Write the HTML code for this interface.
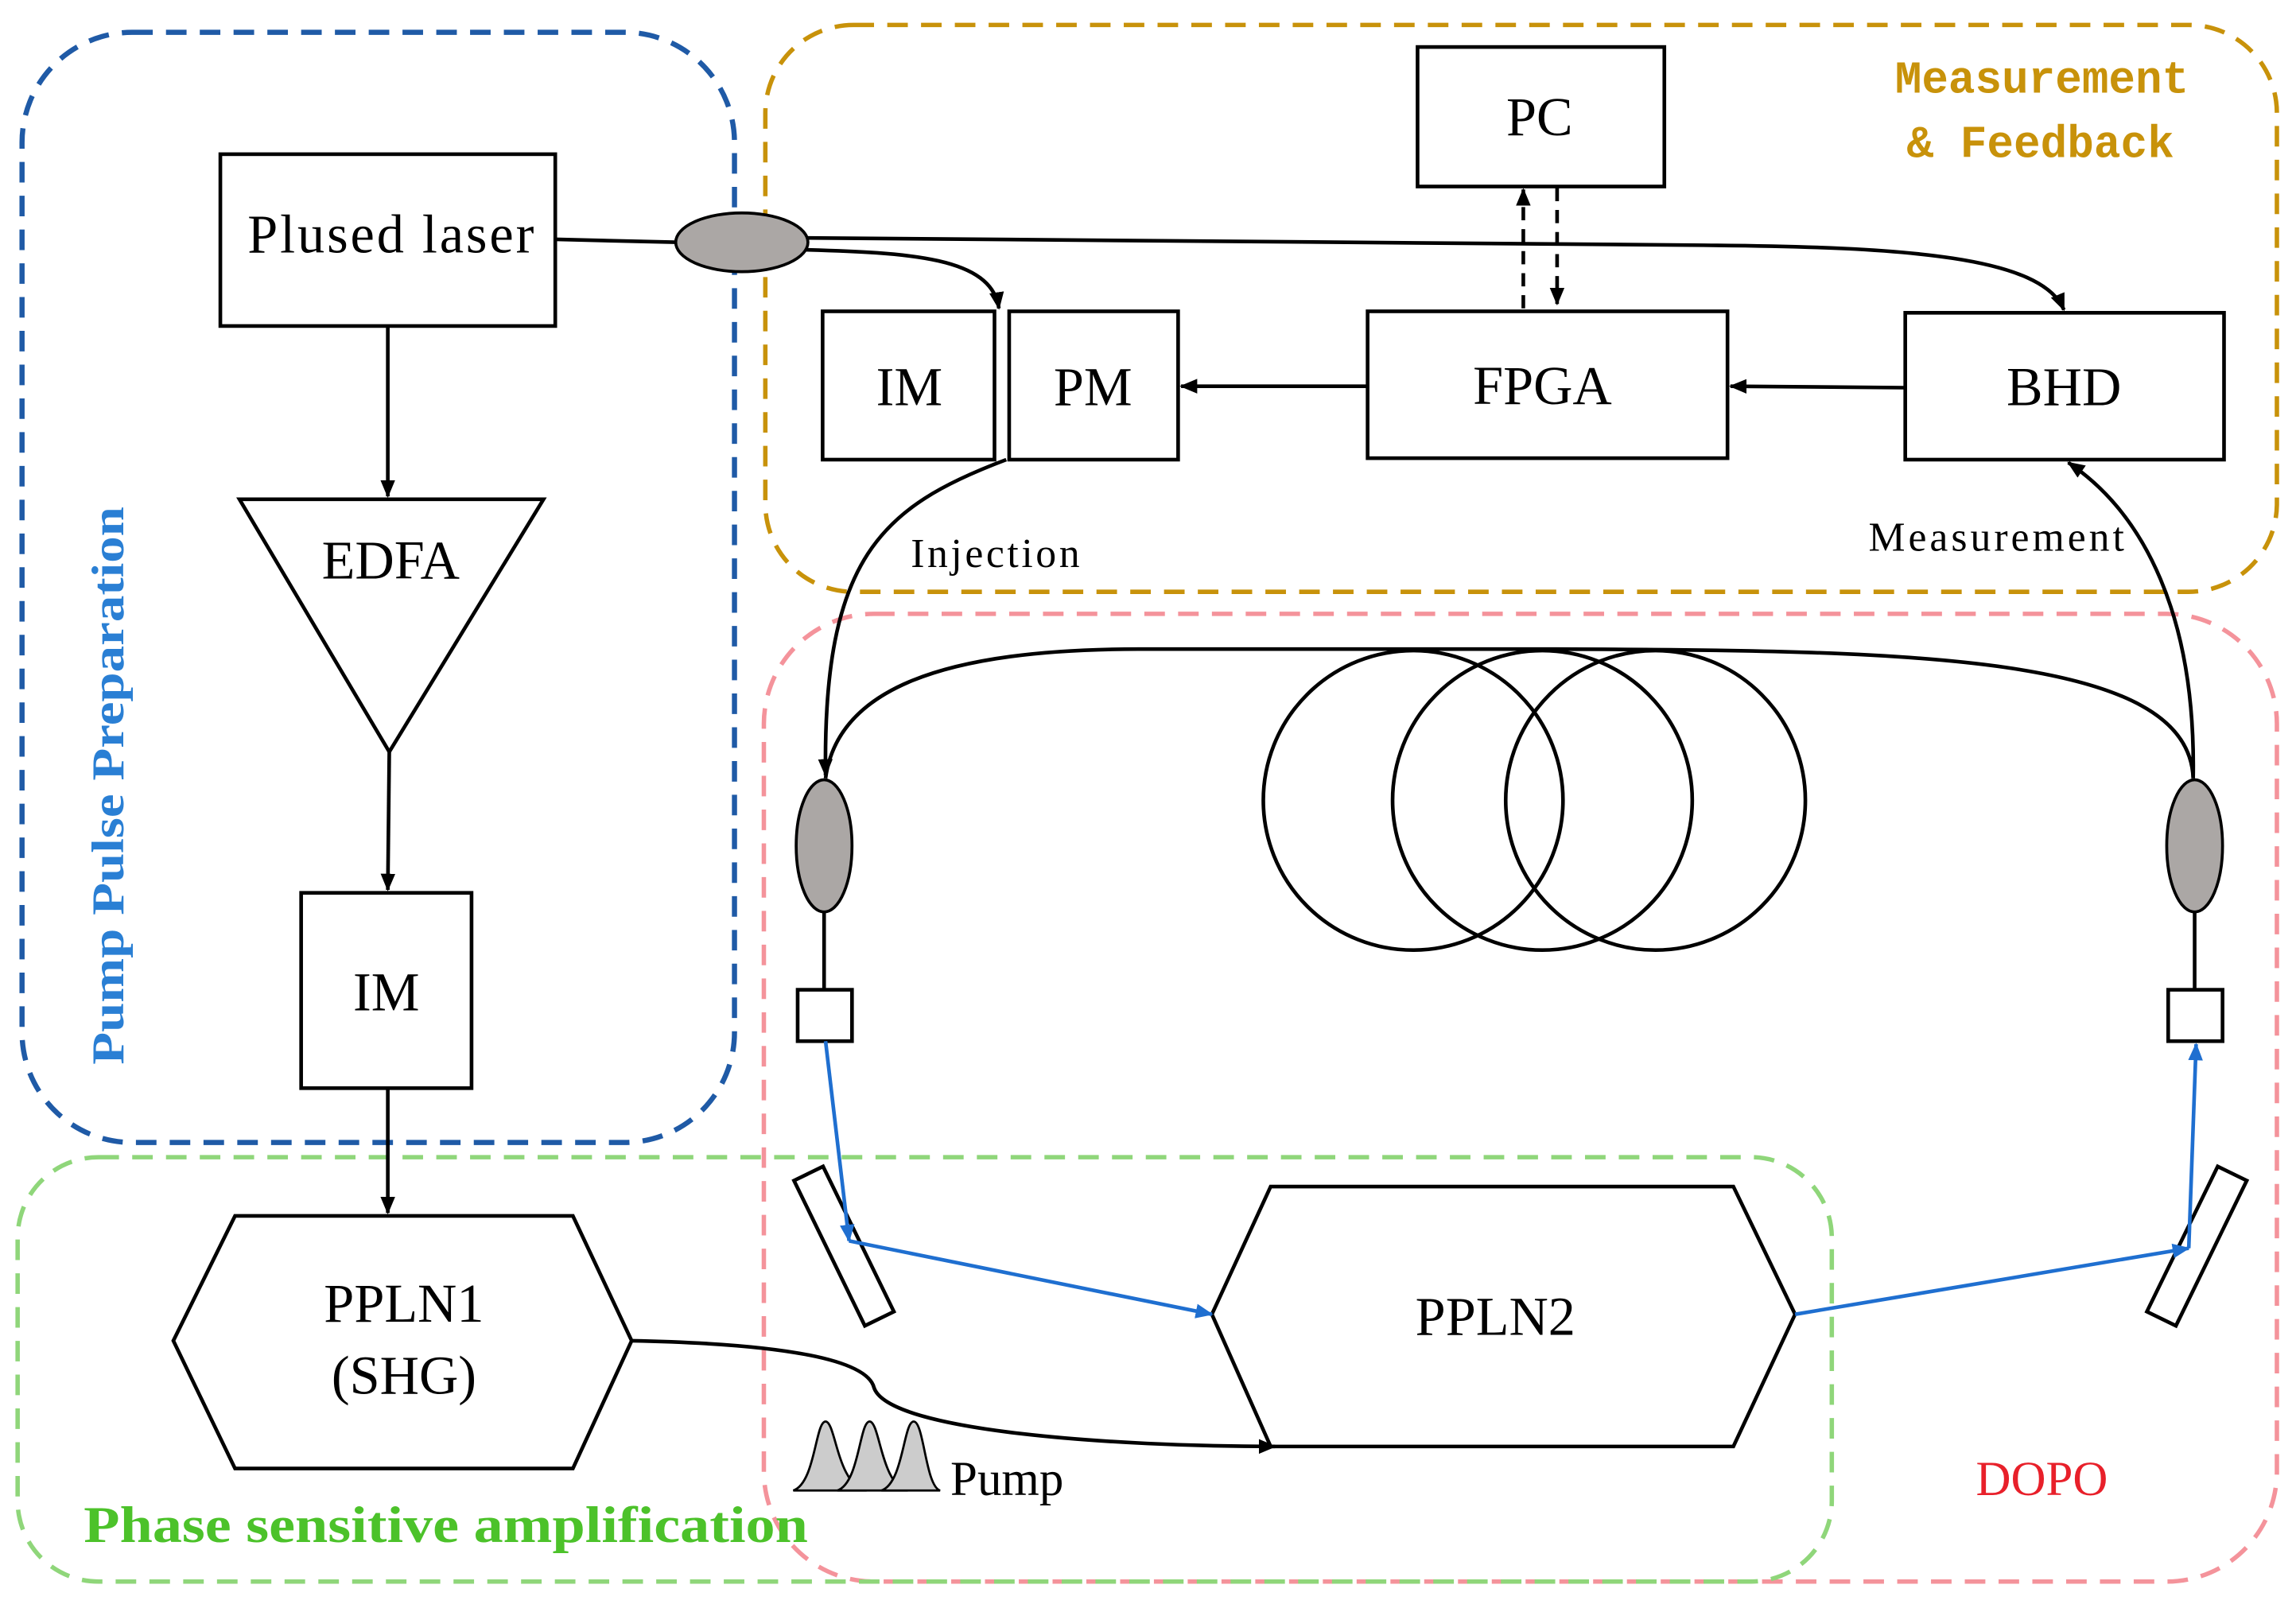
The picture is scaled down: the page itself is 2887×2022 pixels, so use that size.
<!DOCTYPE html>
<html><head><meta charset="utf-8"><style>
html,body{margin:0;padding:0;background:#fff;}
svg{display:block;}
text{font-family:"Liberation Serif",serif;fill:#000;}
</style></head><body>
<svg width="2887" height="2022" viewBox="0 0 1563 1095" preserveAspectRatio="none" xmlns="http://www.w3.org/2000/svg">
<defs>
<marker id="ab" markerWidth="12" markerHeight="12" refX="11" refY="6" orient="auto" markerUnits="userSpaceOnUse"><path d="M0,1 L12,6 L0,11 Z" fill="#000"/></marker>
<marker id="au" markerWidth="12" markerHeight="10" refX="11" refY="5" orient="auto" markerUnits="userSpaceOnUse"><path d="M0,0 L12,5 L0,10 Z" fill="#1f6fd0"/></marker>
</defs>
<rect x="15" y="22" width="485" height="756" rx="75" fill="none" stroke="#1f5aa6" stroke-width="3.5" stroke-dasharray="14,9"/>
<rect x="521" y="17" width="1029" height="386" rx="60" fill="none" stroke="#c8920a" stroke-width="3" stroke-dasharray="14,9"/>
<rect x="520" y="418" width="1030" height="659" rx="75" fill="none" stroke="#f4939b" stroke-width="3" stroke-dasharray="14,9"/>
<rect x="12" y="788" width="1235" height="289" rx="55" fill="none" stroke="#8fd67a" stroke-width="3" stroke-dasharray="14,9"/>

<g fill="none" stroke="#000" stroke-width="2.5">
<rect x="150" y="105" width="228" height="117" fill="#fff"/>
<rect x="965" y="32" width="168" height="95"/>
<rect x="931" y="212" width="245" height="100"/>
<rect x="1297" y="213" width="217" height="100"/>
<rect x="560" y="212" width="117" height="101"/>
<rect x="687" y="212" width="115" height="101"/>
<rect x="205" y="608" width="116" height="133"/>
<polygon points="163,340 370,340 265,512"/>
<polygon points="118,913 160,828 390,828 430,913 390,1000 160,1000"/>
<polygon points="825,895 865,808 1180,808 1222,895 1180,985 865,985"/>
<circle cx="962" cy="545" r="102"/>
<circle cx="1050" cy="545" r="102"/>
<circle cx="1127" cy="545" r="102"/>
<line x1="378" y1="163" x2="462" y2="165"/>
<path d="M550,162 C800,165 1000,166 1160,167 C1300,168 1390,175 1405,211" marker-end="url(#ab)"/>
<path d="M545,170 C620,172 675,175 680,210" marker-end="url(#ab)"/>
<line x1="931" y1="263" x2="804" y2="263" marker-end="url(#ab)"/>
<line x1="1297" y1="264" x2="1178" y2="263" marker-end="url(#ab)"/>
<line x1="1037" y1="210" x2="1037" y2="129" stroke-dasharray="9,6" marker-end="url(#ab)"/>
<line x1="1060" y1="128" x2="1060" y2="207" stroke-dasharray="9,6" marker-end="url(#ab)"/>
<line x1="264" y1="222" x2="264" y2="338" marker-end="url(#ab)"/>
<line x1="265" y1="512" x2="264" y2="606" marker-end="url(#ab)"/>
<line x1="264" y1="741" x2="264" y2="826" marker-end="url(#ab)"/>
<path d="M685,313 C600,345 560,380 562,528" marker-end="url(#ab)"/>
<path d="M562,530 C570,470 640,442 775,442 L1060,442 C1300,443 1490,445 1493,530"/>
<path d="M1493,530 C1495,420 1460,350 1408,315" marker-end="url(#ab)"/>
<path d="M430,913 C530,915 590,925 595,945 C605,975 760,985 868,985" marker-end="url(#ab)"/>
<line x1="561" y1="621" x2="561" y2="674"/>
<line x1="1494" y1="621" x2="1494" y2="674"/>
<rect x="543" y="674" width="37" height="35"/>
<rect x="1476" y="674" width="37" height="35"/>
<rect x="-5" y="-57" width="22" height="110" transform="translate(570,853) rotate(-26)"/>
<rect x="-17" y="-57" width="22" height="110" transform="translate(1500,853) rotate(26)"/>
</g>
<ellipse cx="505" cy="165" rx="45" ry="20" fill="#aba7a5" stroke="#000" stroke-width="2"/>
<ellipse cx="561" cy="576" rx="19" ry="45" fill="#aba7a5" stroke="#000" stroke-width="2"/>
<ellipse cx="1494" cy="576" rx="19" ry="45" fill="#aba7a5" stroke="#000" stroke-width="2"/>
<g stroke="#1f6fd0" stroke-width="2.5" fill="none">
<line x1="562" y1="709" x2="578" y2="845" marker-end="url(#au)"/>
<line x1="578" y1="845" x2="825" y2="895" marker-end="url(#au)"/>
<line x1="1222" y1="895" x2="1490" y2="850" marker-end="url(#au)"/>
<line x1="1490" y1="850" x2="1495" y2="711" marker-end="url(#au)"/>
</g>
<g stroke="#000" stroke-width="1.5" fill="#ccc">
<path d="M540,1015 C555,1010 555,968 562,968 C569,968 570,1012 590,1015 Z"/>
<path d="M570,1015 C585,1010 585,968 592,968 C599,968 600,1012 618,1015 Z"/>
<path d="M600,1015 C615,1010 615,968 622,968 C629,968 630,1012 640,1015 Z"/>
</g>
<g font-size="37" text-anchor="middle">
<text x="266" y="172" textLength="195">Plused laser</text>
<text x="1048" y="92">PC</text>
<text x="1050" y="275">FPGA</text>
<text x="1405" y="276">BHD</text>
<text x="619" y="276">IM</text>
<text x="744" y="276">PM</text>
<text x="266" y="394">EDFA</text>
<text x="263" y="688">IM</text>
<text x="275" y="900">PPLN1</text>
<text x="275" y="949">(SHG)</text>
<text x="1018" y="909">PPLN2</text>
</g>
<text x="620" y="386" font-size="28" textLength="115">Injection</text>
<text x="1272" y="375" font-size="28" textLength="174">Measurement</text>
<text x="647" y="1018" font-size="33">Pump</text>
<text x="1390" y="1018" font-size="33" text-anchor="middle" style="fill:#e8202a">DOPO</text>
<text x="1290" y="63" font-size="31" font-weight="bold" textLength="200" lengthAdjust="spacingAndGlyphs" style="font-family:'Liberation Mono',monospace;fill:#c8920a">Measurement</text>
<text x="1298" y="107" font-size="31" font-weight="bold" textLength="182" lengthAdjust="spacingAndGlyphs" style="font-family:'Liberation Mono',monospace;fill:#c8920a">&amp; Feedback</text>
<text x="57" y="1050" font-size="35" font-weight="bold" textLength="493" lengthAdjust="spacingAndGlyphs" style="fill:#4cc22a">Phase sensitive amplification</text>
<text transform="translate(84,725) rotate(-90)" font-size="31" font-weight="bold" textLength="380" lengthAdjust="spacingAndGlyphs" style="fill:#2a7fd4">Pump Pulse Preparation</text>
</svg>
</body></html>
